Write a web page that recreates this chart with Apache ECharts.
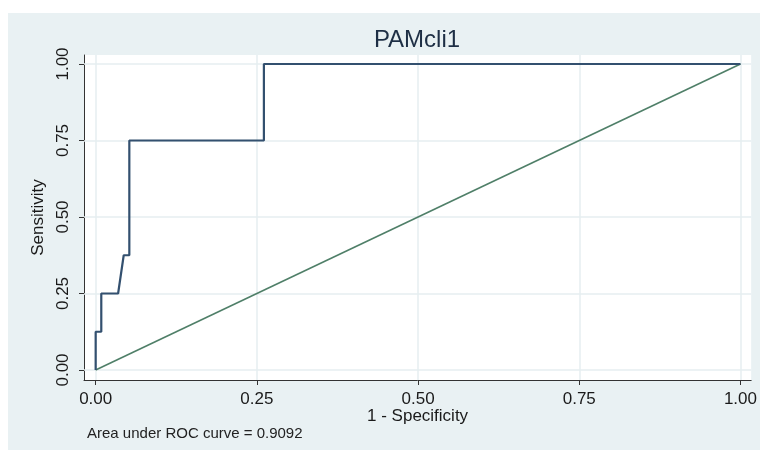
<!DOCTYPE html>
<html>
<head>
<meta charset="utf-8">
<script src="https://cdn.jsdelivr.net/npm/echarts@6/dist/echarts.min.js"></script>
<style>
  html, body { margin: 0; padding: 0; background: #ffffff; }
  #chart { width: 760px; height: 450px; }
</style>
</head>
<body>
<div id="chart"></div>
<script>
// ROC curve points (1 - specificity, sensitivity)
const fpr = [0, 0, 0.0087, 0.0087, 0.0348, 0.0435, 0.0522, 0.0522, 0.2609, 0.2609, 1];
const sens = [0, 0.125, 0.125, 0.25, 0.25, 0.375, 0.375, 0.75, 0.75, 1, 1];

// Chance (reference) line
const refX = [0, 1];
const refY = [0, 1];

// Tick values on both axes
const xTicks = [0, 0.25, 0.5, 0.75, 1];
const yTicks = [0, 0.25, 0.5, 0.75, 1];

const titleText = 'PAMcli1';
const xTitle = '1 - Specificity';
const yTitle = 'Sensitivity';
const noteText = 'Area under ROC curve = 0.9092';

const FONT = 'Liberation Sans, Arial, sans-serif';
const BG = '#e9f1f3';
const GRID_LINE = '#e6eef0';
const AXIS = '#333333';

const pair = (xs, ys) => xs.map((x, i) => [x, ys[i]]);

const chart = echarts.init(document.getElementById('chart'), null, { renderer: 'canvas' });

chart.setOption({
  animation: false,
  backgroundColor: '#ffffff',
  textStyle: { fontFamily: FONT },
  graphic: [
    { type: 'rect', z: -10, silent: true,
      shape: { x: 8, y: 13, width: 752, height: 437 },
      style: { fill: BG } },
    { type: 'text', x: 417, y: 40, silent: true,
      style: { text: titleText, fontSize: 24, fontFamily: FONT, fill: '#1e2f45',
               align: 'center', verticalAlign: 'middle' } },
    { type: 'text', x: 87, y: 434, silent: true,
      style: { text: noteText, fontSize: 15, fontFamily: FONT, fill: '#222222',
               align: 'left', verticalAlign: 'middle' } }
  ],
  grid: {
    show: true, backgroundColor: '#ffffff', borderWidth: 0,
    left: 84, right: 7, top: 55, bottom: 70
  },
  xAxis: {
    type: 'value', min: -0.0181, max: 1.0166,
    name: xTitle, nameLocation: 'middle', nameGap: 28, nameMoveOverlap: false,
    nameTextStyle: { fontSize: 17, color: '#1a1a1a', fontFamily: FONT },
    axisLine: { show: true, onZero: false, lineStyle: { color: AXIS, width: 1 } },
    axisTick: { show: true, length: 5, customValues: xTicks, lineStyle: { color: AXIS } },
    axisLabel: { customValues: xTicks, formatter: v => v.toFixed(2), fontSize: 17,
                 color: '#1a1a1a', margin: 11, fontFamily: FONT },
    splitLine: { show: false }
  },
  yAxis: {
    type: 'value', min: -0.0327, max: 1.0294,
    name: yTitle, nameLocation: 'middle', nameGap: 33,
    nameTextStyle: { fontSize: 17, color: '#1a1a1a', fontFamily: FONT },
    axisLine: { show: true, onZero: false, lineStyle: { color: AXIS, width: 1 } },
    axisTick: { show: true, length: 5, customValues: yTicks, lineStyle: { color: AXIS } },
    axisLabel: { customValues: yTicks, formatter: v => v.toFixed(2), fontSize: 17,
                 color: '#1a1a1a', rotate: 90, margin: 12, fontFamily: FONT },
    splitLine: { show: false }
  },
  series: [
    {
      name: 'gridlines', type: 'line', data: [], z: 1, silent: true,
      markLine: {
        silent: true, symbol: ['none', 'none'], animation: false, z: 1,
        label: { show: false },
        lineStyle: { color: GRID_LINE, width: 1.5, type: 'solid' },
        data: xTicks.map(v => ({ xAxis: v })).concat(yTicks.map(v => ({ yAxis: v })))
      }
    },
    {
      name: 'reference', type: 'line', data: pair(refX, refY), z: 9,
      showSymbol: false, silent: true,
      lineStyle: { color: '#4f7f68', width: 1.6 }
    },
    {
      name: 'ROC', type: 'line', data: pair(fpr, sens), z: 10,
      showSymbol: false, silent: true,
      lineStyle: { color: '#33506f', width: 2.2 }
    }
  ]
});
</script>
</body>
</html>
